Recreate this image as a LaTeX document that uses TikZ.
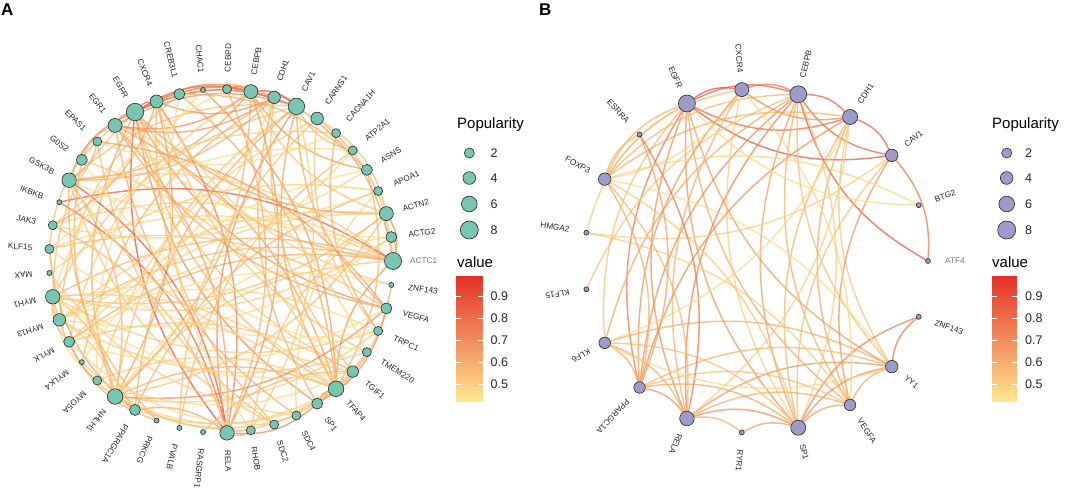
\documentclass[tikz,border=0pt]{standalone}
\usepackage{fontspec}
\setmainfont{Liberation Sans}
\pgfdeclarelayer{edges}
\pgfsetlayers{edges,main}

\definecolor{popA}{RGB}{118,198,178}
\definecolor{popB}{RGB}{158,155,202}
\definecolor{vlow}{RGB}{255,232,145}
\definecolor{vmid}{RGB}{245,155,88}
\definecolor{vhigh}{RGB}{229,50,40}
\definecolor{labgray}{RGB}{120,120,120}

\tikzset{
  gene/.style={circle,draw=black!85,line width=0.6pt,inner sep=0pt},
  genelab/.style={font=\fontsize{8.2}{8.2}\selectfont,text=black!85,inner sep=0pt},
  lab ACTC1/.style={text=labgray},
  lab ATF4/.style={text=labgray},
  link/.style={line width=1.45pt,opacity=0.72},
  legtitle/.style={font=\fontsize{15}{15}\selectfont,anchor=west,inner sep=0pt},
  legnum/.style={font=\fontsize{12.5}{12.5}\selectfont,text=black!85,anchor=west,inner sep=0pt},
  panel/.style={font=\fontsize{17}{17}\selectfont\bfseries,anchor=north west,inner sep=0pt}
}

% edge colour from value (0..100)
\newcommand\linkcolor[1]{%
  \ifnum#1<50
    \pgfmathtruncatemacro\lcp{2*#1}\colorlet{lc}{vmid!\lcp!vlow}%
  \else
    \pgfmathtruncatemacro\lcp{2*#1-100}\colorlet{lc}{vhigh!\lcp!vmid}%
  \fi}

% label of a gene: node name, text, angle
\newcommand\genelabel[3]{%
  \pgfmathtruncatemacro\flip{and(#3>90,#3<=180)}%
  \ifnum\flip=1
    \pgfmathsetmacro\rot{#3-180}%
    \node[genelab,lab #2/.try,anchor=east,rotate=\rot] (l#1) at (#3:189) {#2};
  \else
    \node[genelab,lab #2/.try,anchor=west,rotate=#3] (l#1) at (#3:189) {#2};
  \fi}

\begin{document}
\begin{tikzpicture}[x=1pt,y=1pt]
\useasboundingbox (0,0) rectangle (1065,490);

%% panel A
\node[panel] (tagA) at (1,486) {A};
\begin{scope}[shift={(221,229)}]
\foreach \g/\d [count=\i from 0] in {ACTC1/17,ACTG2/11,ACTN2/14,APOA1/9,ASNS/11,
    ATP2A1/9,CACNA1H/9,CARNS1/12.5,CAV1/16.5,CDH1/12.5,CEBPB/14,CEBPD/9,CHAC1/5,
    CREB3L1/11,CXCR4/13,EGFR/17.5,EGR1/14,EPAS1/9,G0S2/11,GSK3B/14.5,IKBKB/5,
    JAK3/9,KLF15/9,MAX/5,MYH1/14.5,MYH13/12.5,MYLK/11,MYLK4/5,MYO5A/9,NHLH1/15.5,
    PPARGC1A/11,PRKCG/5,PVALB/5,RASGRP1/5,RELA/14.5,RHOB/9,SDC2/9,SDC4/9,SP1/11,
    TFAP4/15.5,TGIF1/11.5,TMEM220/9,TRPC1/9,VEGFA/11,ZNF143/5}{
  \pgfmathsetmacro\ang{\i*8}
  \node[gene,fill=popA,minimum size=\d pt] (a\g) at (\ang:172) {};
  \genelabel{a\g}{\g}{\ang}
}
\end{scope}

\begin{pgfonlayer}{edges}
\foreach \s/\t/\v in {CAV1/EGFR/85,CEBPB/EGFR/80,CXCR4/EGFR/75,EGFR/RELA/90,
    EGFR/SP1/60,EGFR/VEGFA/55,EGFR/ACTC1/40,EGFR/GSK3B/70,EGFR/EGR1/65,
    EGFR/TFAP4/35,EGFR/MYH1/30,EGFR/NHLH1/45,CDH1/EGFR/70,EGFR/TGIF1/25,
    EGFR/ACTN2/50,ACTC1/ACTN2/60,ACTC1/ACTG2/45,ACTC1/MYH1/35,ACTC1/MYH13/30,
    ACTC1/MYLK/40,ACTC1/NHLH1/25,ACTC1/CAV1/50,ACTC1/GSK3B/20,ACTC1/TFAP4/55,
    ACTC1/KLF15/15,ACTC1/CARNS1/30,ACTC1/JAK3/20,ACTC1/IKBKB/85,CAV1/CEBPB/90,
    CAV1/CDH1/75,CAV1/RELA/60,CAV1/TFAP4/50,CAV1/NHLH1/30,CAV1/MYH1/25,
    CAV1/VEGFA/45,CAV1/EGR1/55,CAV1/ATP2A1/35,CAV1/PPARGC1A/40,CAV1/GSK3B/30,
    TFAP4/NHLH1/40,TFAP4/MYH1/20,TFAP4/EGR1/50,TFAP4/CREB3L1/45,TFAP4/CHAC1/55,
    TFAP4/SP1/70,TFAP4/ASNS/35,TFAP4/G0S2/25,TFAP4/TGIF1/30,TFAP4/MYO5A/20,
    NHLH1/MYH1/30,NHLH1/MYH13/25,NHLH1/GSK3B/35,NHLH1/CEBPB/40,NHLH1/TRPC1/20,
    NHLH1/VEGFA/60,NHLH1/CXCR4/50,NHLH1/ACTN2/30,NHLH1/SDC4/25,RELA/GSK3B/85,
    RELA/IKBKB/75,RELA/CXCR4/65,RELA/SP1/60,RELA/CEBPB/55,RELA/EGR1/50,
    RELA/PPARGC1A/45,RELA/RHOB/40,RELA/JAK3/35,RELA/CEBPD/40,RELA/TMEM220/30,
    MYH1/MYH13/20,MYH1/MYLK/25,MYH1/ACTN2/30,MYH1/ACTG2/20,MYH1/MYO5A/15,
    MYH1/PPARGC1A/35,MYH1/TRPC1/20,MYH1/ATP2A1/15,GSK3B/CEBPB/45,GSK3B/EPAS1/40,
    GSK3B/SDC2/25,GSK3B/PRKCG/35,GSK3B/CDH1/40,GSK3B/TGIF1/20,EGR1/CEBPB/60,
    EGR1/CDH1/55,EGR1/SDC4/40,EGR1/VEGFA/45,EGR1/KLF15/30,EGR1/G0S2/35,
    CEBPB/CEBPD/70,CEBPB/CXCR4/60,CEBPB/ASNS/50,CEBPB/ACTN2/25,CEBPB/MYLK/20,
    CXCR4/CDH1/55,CXCR4/SDC2/35,CXCR4/TMEM220/25,CXCR4/ZNF143/20,ACTN2/ACTG2/40,
    ACTN2/MYLK/20,ACTN2/CARNS1/30,ACTN2/RHOB/25,ACTN2/MYH13/20,CDH1/CREB3L1/45,
    CDH1/SP1/40,CDH1/TGIF1/30,CDH1/MYLK4/35,CARNS1/MYO5A/20,CARNS1/TRPC1/25,
    CARNS1/PVALB/30,CACNA1H/TRPC1/40,CACNA1H/JAK3/20,APOA1/PPARGC1A/35,
    APOA1/MAX/20,ASNS/CREB3L1/40,ATP2A1/PVALB/30,SP1/VEGFA/55,SP1/ZNF143/45,
    SP1/SDC4/35,TGIF1/MYLK/25,TGIF1/RASGRP1/35,VEGFA/EPAS1/50,VEGFA/KLF15/30,
    JAK3/CXCR4/45,G0S2/PPARGC1A/40,EPAS1/SDC2/30,MYH13/TMEM220/20,MYLK/PRKCG/40,
    MYLK4/RHOB/25,CREB3L1/MYH13/30,KLF15/PPARGC1A/50,MAX/SDC4/20,
    MYH1/TGIF1/10,MYH13/ACTG2/12,MYLK/VEGFA/8,KLF15/TRPC1/10,JAK3/ASNS/15,
    GSK3B/APOA1/12,EGR1/ACTG2/10,G0S2/TMEM220/8,EPAS1/CACNA1H/12,NHLH1/SP1/15,
    MYO5A/TGIF1/10,PPARGC1A/TFAP4/20,MYLK/SDC2/12,MYH13/CDH1/15,CHAC1/MYO5A/10,
    CEBPD/MYH1/12,CREB3L1/RHOB/15,ACTG2/NHLH1/10,ASNS/MYLK4/8,APOA1/SDC4/14,
    ATP2A1/KLF15/10,TRPC1/MYH13/12,TMEM220/EGR1/15,ZNF143/MYLK/10,RHOB/CAV1/20}{
  \linkcolor{\v}
  \draw[link,draw=lc] (a\s) to[bend right=22] (a\t);
}
\end{pgfonlayer}

% legend A
\node[legtitle] (popTitleA) at (457,365) {Popularity};
\foreach \n/\d/\y [count=\k] in {2/10/337,4/12.7/312,6/15.7/286,8/18/260}{
  \node[gene,fill=popA,minimum size=\d pt] (popA\k) at (469.3,\y) {};
  \node[legnum] (popNumA\k) at (490.5,\y) {\n};
}
\node[legtitle] (valTitleA) at (457,228) {value};
\shade[top color=vhigh,middle color=vmid,bottom color=vlow] (456,88) rectangle (483,213);
\foreach \t/\y [count=\k] in {0.9/194,0.8/172,0.7/150,0.6/128,0.5/106}{
  \draw[white,line width=0.5pt] (456,\y) -- (461,\y) (478,\y) -- (483,\y);
  \node[legnum] (tickA\k) at (490.5,\y) {\t};
}

%% panel B
\node[panel] (tagB) at (539,486) {B};
\begin{scope}[shift={(756,229)}]
\foreach \g/\d [count=\i from 0] in {ATF4/5,BTG2/5,CAV1/12.5,CDH1/15,CEBPB/17,
    CXCR4/14,EGFR/17,ESRRA/5,FOXP3/12.5,HMGA2/5,KLF15/5,KLF6/11.5,PPARGC1A/11.5,
    RELA/14.5,RYR1/5,SP1/15,VEGFA/11.5,YY1/12.5,ZNF143/5}{
  \pgfmathsetmacro\ang{\i*360/19}
  \node[gene,fill=popB,minimum size=\d pt] (b\g) at (\ang:172) {};
  \genelabel{b\g}{\g}{\ang}
}
\end{scope}

\begin{pgfonlayer}{edges}
\foreach \s/\t/\v in {CXCR4/EGFR/85,CEBPB/EGFR/80,EGFR/CDH1/75,EGFR/CAV1/85,
    EGFR/RELA/60,EGFR/SP1/55,EGFR/PPARGC1A/70,EGFR/FOXP3/40,EGFR/VEGFA/45,
    EGFR/YY1/50,EGFR/KLF6/30,EGFR/HMGA2/20,CEBPB/CXCR4/70,CDH1/CEBPB/80,
    CEBPB/CAV1/75,CEBPB/ATF4/85,CEBPB/PPARGC1A/60,CEBPB/RELA/65,CEBPB/SP1/50,
    CEBPB/KLF6/45,CEBPB/FOXP3/35,CEBPB/YY1/30,CEBPB/VEGFA/40,CEBPB/KLF15/25,
    CXCR4/CDH1/60,CXCR4/RELA/40,CXCR4/SP1/20,CXCR4/FOXP3/30,CXCR4/PPARGC1A/55,
    CAV1/CDH1/80,CDH1/PPARGC1A/60,CDH1/VEGFA/45,CDH1/SP1/35,CDH1/FOXP3/40,
    CDH1/YY1/25,CAV1/VEGFA/55,CAV1/SP1/30,ATF4/CAV1/70,BTG2/FOXP3/15,
    HMGA2/CAV1/20,ZNF143/YY1/70,ZNF143/SP1/65,YY1/SP1/60,YY1/VEGFA/45,
    YY1/RELA/55,YY1/PPARGC1A/35,YY1/KLF6/40,VEGFA/SP1/50,VEGFA/RELA/40,
    VEGFA/PPARGC1A/30,VEGFA/HMGA2/20,SP1/RELA/60,SP1/RYR1/50,SP1/PPARGC1A/45,
    SP1/KLF6/30,SP1/FOXP3/25,RELA/PPARGC1A/55,RELA/ESRRA/70,RELA/KLF6/40,
    RELA/FOXP3/35,PPARGC1A/ESRRA/50,PPARGC1A/KLF6/45,PPARGC1A/FOXP3/40,
    RYR1/RELA/40,ESRRA/FOXP3/35,FOXP3/CXCR4/15,KLF6/CDH1/12,YY1/FOXP3/10,
    VEGFA/CXCR4/15,SP1/CEBPB/20,KLF6/YY1/12,RELA/CDH1/20,EGFR/BTG2/10}{
  \linkcolor{\v}
  \draw[link,draw=lc] (b\s) to[bend right=22] (b\t);
}
\end{pgfonlayer}

% legend B
\node[legtitle] (popTitleB) at (992,365) {Popularity};
\foreach \n/\d/\y [count=\k] in {2/10/337,4/12.7/312,6/15.7/286,8/18/260}{
  \node[gene,fill=popB,minimum size=\d pt] (popB\k) at (1006.7,\y) {};
  \node[legnum] (popNumB\k) at (1025,\y) {\n};
}
\node[legtitle] (valTitleB) at (992,228) {value};
\shade[top color=vhigh,middle color=vmid,bottom color=vlow] (992,88) rectangle (1017,213);
\foreach \t/\y [count=\k] in {0.9/194,0.8/172,0.7/150,0.6/128,0.5/106}{
  \draw[white,line width=0.5pt] (992,\y) -- (997,\y) (1012,\y) -- (1017,\y);
  \node[legnum] (tickB\k) at (1025,\y) {\t};
}
\end{tikzpicture}
\end{document}
